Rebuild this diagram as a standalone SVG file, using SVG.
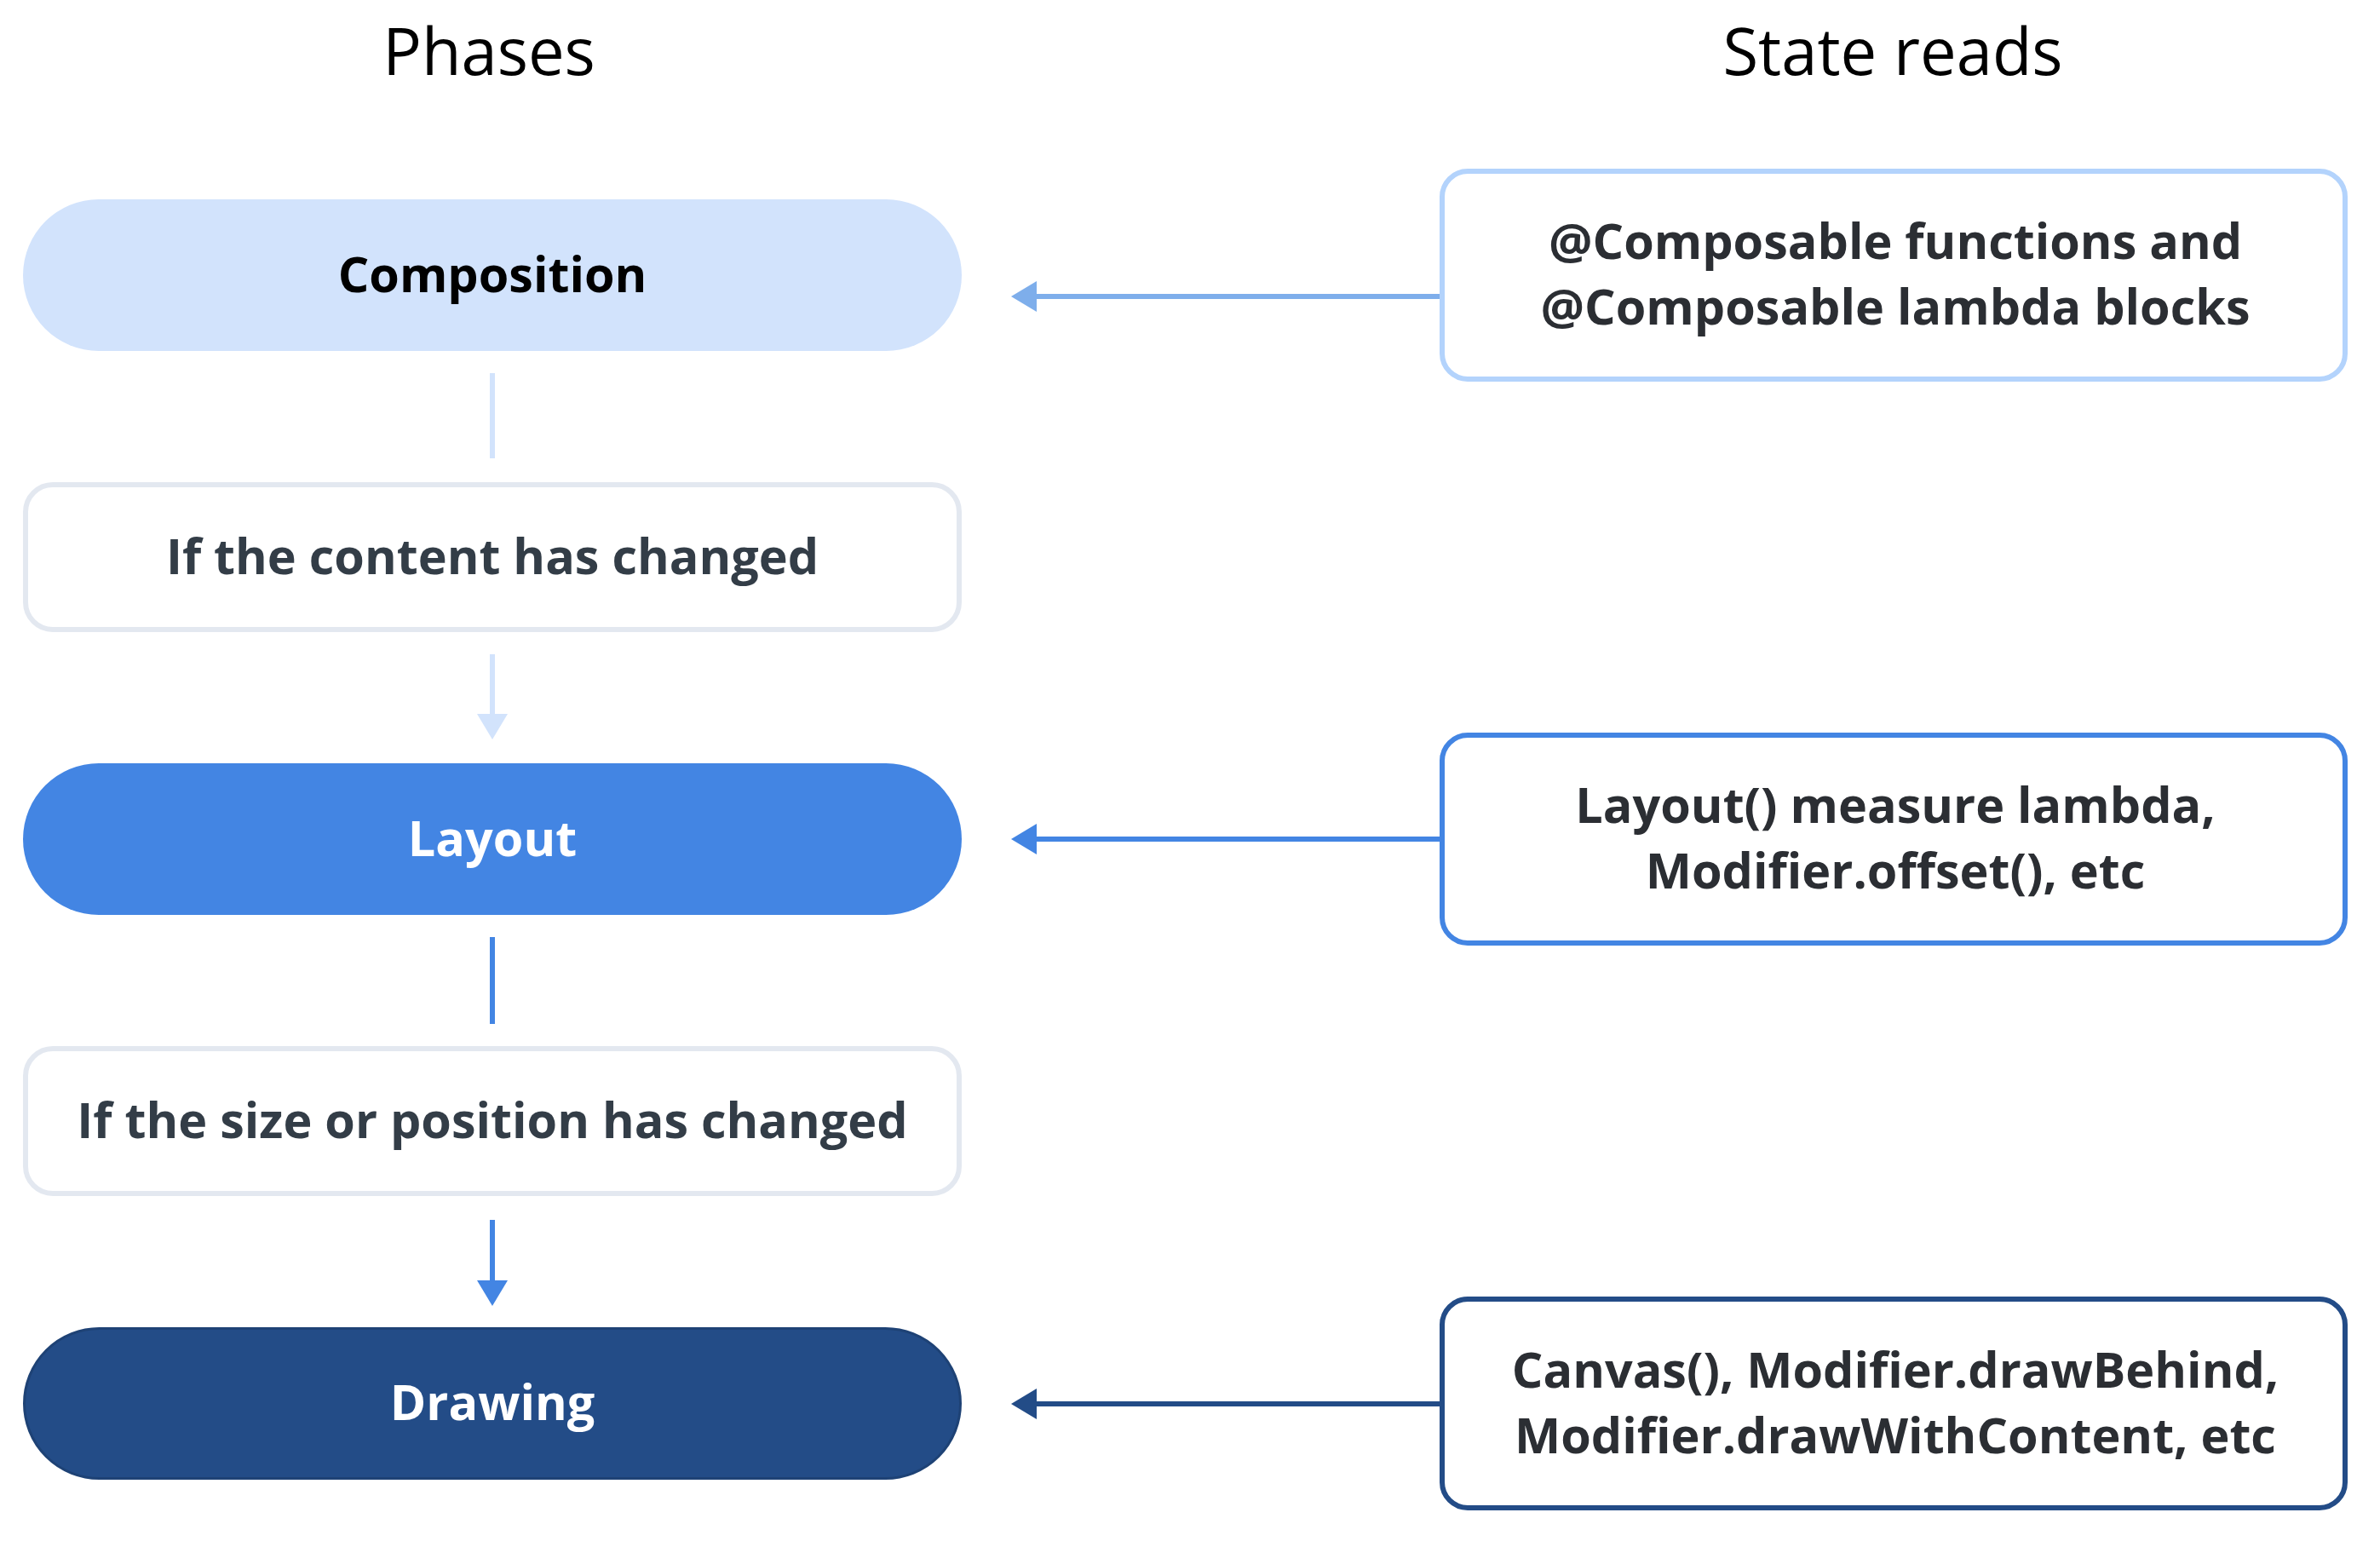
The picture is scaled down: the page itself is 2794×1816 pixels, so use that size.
<svg xmlns="http://www.w3.org/2000/svg" width="2794" height="1816" viewBox="0 0 2794 1816">
<style>
.title{font-family:"Open Sans","Liberation Sans",sans-serif;font-size:76px;font-weight:400;fill:#000;text-anchor:middle}
.lbl{font-family:"Open Sans","Liberation Sans",sans-serif;font-size:57.5px;font-weight:700;text-anchor:middle}
.cond{fill:#fff;stroke:#e3e8f0;stroke-width:6}
.read{fill:#fff;stroke-width:6}
.conn{fill:none;stroke-width:6}
</style>
<defs>
<marker id="ahLight" markerUnits="userSpaceOnUse" markerWidth="30" markerHeight="36" refX="5" refY="18" orient="auto"><path d="M0,0 L30,18 L0,36 Z" fill="#d2e3fc"/></marker>
<marker id="ahMid" markerUnits="userSpaceOnUse" markerWidth="30" markerHeight="36" refX="5" refY="18" orient="auto"><path d="M0,0 L30,18 L0,36 Z" fill="#7eaeeb"/></marker>
<marker id="ahBlue" markerUnits="userSpaceOnUse" markerWidth="30" markerHeight="36" refX="5" refY="18" orient="auto"><path d="M0,0 L30,18 L0,36 Z" fill="#4385e3"/></marker>
<marker id="ahDark" markerUnits="userSpaceOnUse" markerWidth="30" markerHeight="36" refX="5" refY="18" orient="auto"><path d="M0,0 L30,18 L0,36 Z" fill="#234c87"/></marker>
</defs>
<rect width="2794" height="1816" fill="#fff"/>
<g id="titles">
<text class="title" x="574" y="88">Phases</text>
<text class="title" x="2222" y="88">State reads</text>
</g>
<g id="connectors">
<line class="conn" x1="578" y1="438" x2="578" y2="538" stroke="#d2e3fc"/>
<line class="conn" x1="578" y1="768" x2="578" y2="843" stroke="#d2e3fc" marker-end="url(#ahLight)"/>
<line class="conn" x1="578" y1="1100" x2="578" y2="1202" stroke="#4385e3"/>
<line class="conn" x1="578" y1="1432" x2="578" y2="1508" stroke="#4385e3" marker-end="url(#ahBlue)"/>
<line class="conn" x1="1693" y1="348" x2="1212" y2="348" stroke="#7eaeeb" marker-end="url(#ahMid)"/>
<line class="conn" x1="1693" y1="985" x2="1212" y2="985" stroke="#4385e3" marker-end="url(#ahBlue)"/>
<line class="conn" x1="1693" y1="1648" x2="1212" y2="1648" stroke="#234c87" marker-end="url(#ahDark)"/>
</g>
<g id="composition">
<rect x="27" y="234" width="1102" height="178" rx="89" fill="#d2e3fc"/>
<text class="lbl" x="578" y="343" fill="#000">Composition</text>
</g>
<g id="cond-content">
<rect class="cond" x="30" y="569" width="1096" height="170" rx="32"/>
<text class="lbl" x="578" y="674" fill="#333d47">If the content has changed</text>
</g>
<g id="layout">
<rect x="27" y="896" width="1102" height="178" rx="89" fill="#4385e3"/>
<text class="lbl" x="578" y="1005" fill="#fff">Layout</text>
</g>
<g id="cond-size">
<rect class="cond" x="30" y="1231" width="1096" height="170" rx="32"/>
<text class="lbl" x="578" y="1336" fill="#333d47">If the size or position has changed</text>
</g>
<g id="drawing">
<rect x="28.5" y="1559.5" width="1099" height="176" rx="88" fill="#234c87" stroke="#1e4275" stroke-width="3"/>
<text class="lbl" x="578" y="1667" fill="#fff">Drawing</text>
</g>
<g id="read-composition">
<rect class="read" x="1693" y="201" width="1060" height="244" rx="30" stroke="#b3d3fc"/>
<text class="lbl" x="2225" y="304" fill="#2b2e33">@Composable functions and</text>
<text class="lbl" x="2225" y="381" fill="#2b2e33">@Composable lambda blocks</text>
</g>
<g id="read-layout">
<rect class="read" x="1693" y="863" width="1060" height="244" rx="30" stroke="#4385e3"/>
<text class="lbl" x="2225" y="966" fill="#2b2e33">Layout() measure lambda,</text>
<text class="lbl" x="2225" y="1043" fill="#2b2e33">Modifier.offset(), etc</text>
</g>
<g id="read-drawing">
<rect class="read" x="1693" y="1525" width="1060" height="245" rx="30" stroke="#234c87"/>
<text class="lbl" x="2225" y="1629" fill="#2b2e33">Canvas(), Modifier.drawBehind,</text>
<text class="lbl" x="2225" y="1706" fill="#2b2e33">Modifier.drawWithContent, etc</text>
</g>
</svg>
